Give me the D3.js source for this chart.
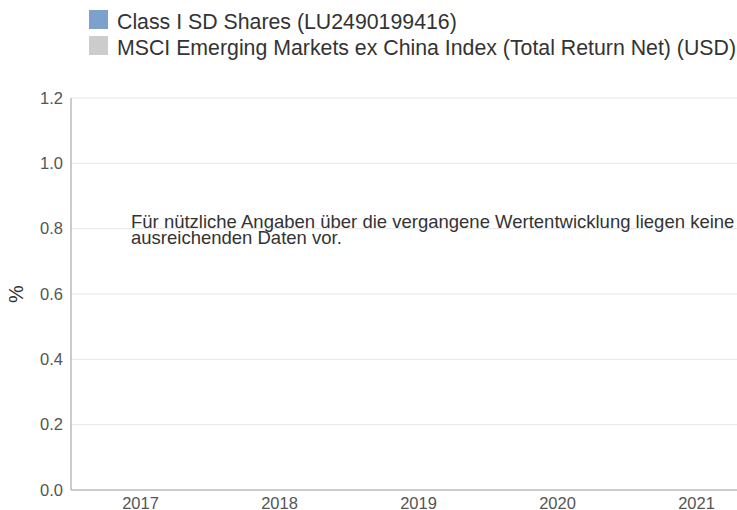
<!DOCTYPE html>
<html>
<head>
<meta charset="utf-8">
<script src="https://cdn.jsdelivr.net/npm/d3@7"></script>
<style>
  body { margin: 0; background: #fff; overflow: hidden; }
  svg { font-family: "Liberation Sans", Arial, sans-serif; display: block; }
  .axis text { fill: #555; font-size: 16.5px; }
  .axis path, .axis line { stroke: #999; }
</style>
</head>
<body>
<div id="chart"></div>
<script>
// chart data
var years = ["2017", "2018", "2019", "2020", "2021"];
var seriesNames = ["Class I SD Shares (LU2490199416)", "MSCI Emerging Markets ex China Index (Total Return Net) (USD)"];
var seriesColors = ["#7da0cc", "#cccccc"];
// no performance values are available for these years
var fundValues = [null, null, null, null, null];
var indexValues = [null, null, null, null, null];
var yTicks = [0, 0.2, 0.4, 0.6, 0.8, 1.0, 1.2];
var noDataText = ["Für nützliche Angaben über die vergangene Wertentwicklung liegen keine", "ausreichenden Daten vor."];

var width = 737, height = 510;
var margin = { top: 98, left: 71, bottom: 20 };

var svg = d3.select("#chart").append("svg")
    .attr("width", width)
    .attr("height", height);

// x band runs past the right edge, like the original
var x = d3.scaleBand()
    .domain(years)
    .range([margin.left, margin.left + 5 * 139]);

var y = d3.scaleLinear()
    .domain([0, 1.2])
    .range([height - margin.bottom, margin.top]);

// gridlines
svg.append("g")
    .selectAll("line")
    .data(yTicks.slice(1))
    .enter().append("line")
    .attr("x1", margin.left)
    .attr("x2", width)
    .attr("y1", function(d) { return y(d); })
    .attr("y2", function(d) { return y(d); })
    .attr("stroke", "#e6e6e6");

// bars (empty series)
var x1 = d3.scaleBand().domain([0, 1]).range([0, x.bandwidth()]).padding(0.2);
[fundValues, indexValues].forEach(function(vals, i) {
    svg.append("g").selectAll("rect")
        .data(vals.map(function(v, j) { return { year: years[j], value: v }; })
            .filter(function(d) { return d.value != null; }))
        .enter().append("rect")
        .attr("x", function(d) { return x(d.year) + x1(i); })
        .attr("width", x1.bandwidth())
        .attr("y", function(d) { return y(Math.max(0, d.value)); })
        .attr("height", function(d) { return Math.abs(y(d.value) - y(0)); })
        .attr("fill", seriesColors[i]);
});

// y axis
var yAxis = svg.append("g")
    .attr("class", "axis")
    .attr("transform", "translate(" + margin.left + ",0)")
    .call(d3.axisLeft(y).tickValues(yTicks).tickFormat(d3.format(".1f")).tickSize(0).tickPadding(8));
yAxis.select(".domain").attr("d", "M0," + y(1.2) + "V" + y(0));

// x axis
var xAxis = svg.append("g")
    .attr("class", "axis")
    .attr("transform", "translate(0," + y(0) + ")")
    .call(d3.axisBottom(x).tickSize(0).tickPadding(7));
xAxis.select(".domain").attr("d", "M" + margin.left + ",0H" + width);

// y title
svg.append("text")
    .attr("transform", "translate(23," + y(0.6) + ") rotate(-90)")
    .attr("text-anchor", "middle")
    .attr("font-size", 20)
    .attr("fill", "#333")
    .text("%");

// no data message
svg.append("g").selectAll("text")
    .data(noDataText)
    .enter().append("text")
    .attr("x", 131)
    .attr("y", function(d, i) { return 228 + i * 16; })
    .attr("font-size", 18.5)
    .attr("fill", "#333")
    .text(function(d) { return d; });

// legend
var legend = svg.append("g").selectAll("g")
    .data(seriesNames)
    .enter().append("g")
    .attr("transform", function(d, i) { return "translate(89," + (10 + i * 26) + ")"; });
legend.append("rect")
    .attr("width", 19)
    .attr("height", 19)
    .attr("fill", function(d, i) { return seriesColors[i]; });
legend.append("text")
    .attr("x", 28)
    .attr("y", 19)
    .attr("font-size", 21.3)
    .attr("fill", "#333")
    .text(function(d) { return d; });
</script>
</body>
</html>
